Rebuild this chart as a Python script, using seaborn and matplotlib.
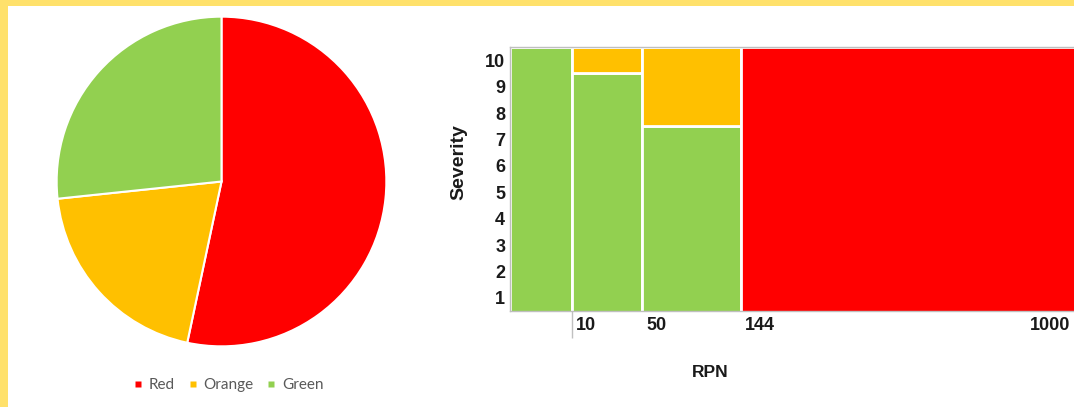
import numpy as np
import pandas as pd
import matplotlib
matplotlib.use("Agg")
import matplotlib.pyplot as plt
import matplotlib.transforms as mtransforms
from matplotlib.lines import Line2D
from matplotlib.patches import Rectangle
import seaborn as sns

# ---- data -------------------------------------------------------------
zones = ["Red", "Orange", "Green"]
zone_counts = [8, 3, 4]
zone_colors = {"Red": "#FF0000", "Orange": "#FFC000", "Green": "#92D050"}

# RPN bands (bin edges) and the severity reached by each zone in each band
rpn_edges = [0, 10, 50, 144, 1200]
green_height = [10.5, 9.5, 7.5, 0.0]
orange_height = [0.0, 1.0, 3.0, 0.0]
red_height = [0.0, 0.0, 0.0, 10.5]

rpn_ticks = [10, 50, 144, 1000]
severity_ticks = list(range(1, 11))

# ---- style ------------------------------------------------------------
sns.set_style("white")
plt.rcParams["font.family"] = ["Liberation Sans", "DejaVu Sans"]

W, H = 1074, 407
fig = plt.figure(figsize=(W / 100, H / 100), dpi=100, facecolor="#FFE16B")

# white card behind both charts
fig.patches.append(Rectangle((8 / W, 0), 1 - 8 / W, 1 - 6 / H,
                             transform=fig.transFigure, facecolor="white",
                             edgecolor="none", zorder=-10))

# ---- pie --------------------------------------------------------------
r_px = 166.5
cx, cy = 221.5, 181.5
ax_pie = fig.add_axes([(cx - r_px) / W, 1 - (cy + r_px) / H, 2 * r_px / W, 2 * r_px / H])
ax_pie.pie(zone_counts, colors=[zone_colors[z] for z in zones], startangle=90,
           counterclock=False,
           wedgeprops=dict(edgecolor="white", linewidth=1.5))
ax_pie.set_xlim(-1.01, 1.01)
ax_pie.set_ylim(-1.01, 1.01)
ax_pie.set_aspect("equal")
ax_pie.axis("off")

handles = [Line2D([], [], marker="s", linestyle="none", markersize=4,
                  markerfacecolor=zone_colors[z], markeredgecolor="none") for z in zones]
fig.legend(handles, zones, loc="center", bbox_to_anchor=(229 / W, 1 - 385 / H),
           ncol=3, frameon=False, handlelength=0.5, handletextpad=0.45,
           columnspacing=0.9, prop={"family": "Lato", "size": 11}, labelcolor="#595959")

# ---- severity / RPN chart ----------------------------------------------
ax = fig.add_axes([510 / W, 1 - 311 / H, (W - 510) / W, (311 - 47) / H])

mids = [(a + b) / 2 for a, b in zip(rpn_edges[:-1], rpn_edges[1:])]
df = pd.DataFrame({
    "RPN": mids * 3,
    "Severity": green_height + orange_height + red_height,
    "Zone": ["Green"] * 4 + ["Orange"] * 4 + ["Red"] * 4,
})
sns.histplot(data=df, x="RPN", weights="Severity", hue="Zone",
             hue_order=["Red", "Orange", "Green"], palette=zone_colors,
             bins=rpn_edges, multiple="stack", element="bars", alpha=1,
             edgecolor="white", linewidth=2, legend=False, ax=ax)

# piecewise-linear axis so that each RPN band gets a readable width
scale_rpn = np.array([0, 10, 50, 144, 1000], float)
scale_pos = np.array([0, 62, 132, 231, 516], float)
slope = (scale_pos[-1] - scale_pos[-2]) / (scale_rpn[-1] - scale_rpn[-2])


def fwd(v):
    v = np.asarray(v, float)
    out = np.interp(v, scale_rpn, scale_pos)
    out = np.where(v > scale_rpn[-1], scale_pos[-1] + (v - scale_rpn[-1]) * slope, out)
    return out


def inv(p):
    p = np.asarray(p, float)
    out = np.interp(p, scale_pos, scale_rpn)
    out = np.where(p > scale_pos[-1], scale_rpn[-1] + (p - scale_pos[-1]) / slope, out)
    return out


ax.set_xscale("function", functions=(fwd, inv))
ax.set_xlim(0, float(inv(564)))
ax.set_ylim(0.5, 10.5)

tick_font = dict(fontsize=13, fontweight="bold", color="#1a1a1a")
ax.set_yticks(severity_ticks)
ax.set_yticklabels([str(v) for v in severity_ticks], **tick_font)
ax.set_xticks(rpn_ticks)
ax.set_xticklabels([str(v) for v in rpn_ticks], ha="left", **tick_font)
ax.xaxis.remove_overlapping_locs = False
ax.set_xticks([10], minor=True)
ax.tick_params(axis="both", which="major", length=0)
ax.tick_params(axis="x", which="major", pad=4)
ax.tick_params(axis="y", which="major", pad=3.5)
ax.tick_params(axis="x", which="minor", length=19.5, width=1, color="#c0c0c0",
               bottom=True, direction="out")

ax.set_ylabel("Severity", fontsize=14, fontweight="bold", color="#1a1a1a")
ax.set_xlabel("RPN", fontsize=12.5, fontweight="bold", color="#1a1a1a")
ax.yaxis.set_label_coords(-0.075, 0.5625)
ax.xaxis.set_label_coords(0.3546, -0.2045)

for side in ["left", "top", "bottom"]:
    ax.spines[side].set_visible(True)
    ax.spines[side].set_color("#bfbfbf")
    ax.spines[side].set_linewidth(1)
ax.spines["right"].set_visible(False)
ax.grid(False)

# nudge the RPN labels just right of their band boundary
shift = mtransforms.ScaledTranslation(4 / 100, 0, fig.dpi_scale_trans)
for tick in ax.xaxis.get_major_ticks():
    tick.label1.set_transform(tick.label1.get_transform() + shift)

fig.savefig("out.png", dpi=100, facecolor=fig.get_facecolor())
